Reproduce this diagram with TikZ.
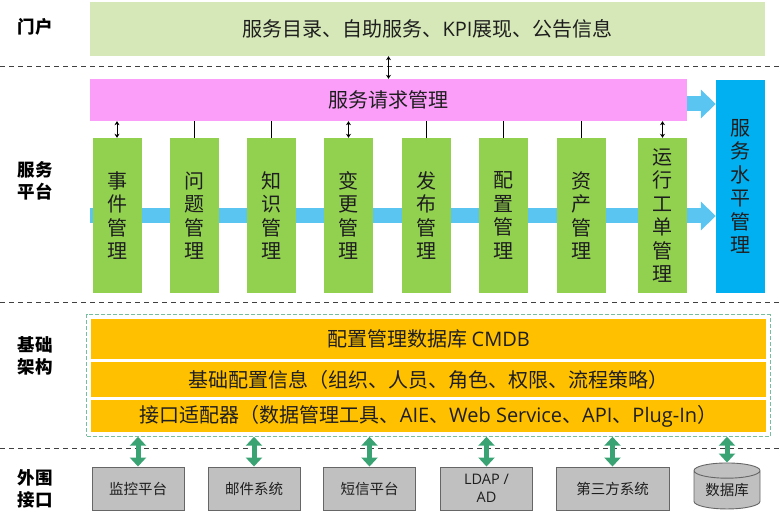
\documentclass[tikz,border=0pt]{standalone}
\usepackage{fontspec}
\setmainfont{Noto Sans CJK SC}
\newfontfamily\lat{Open Sans}
\usepackage{xcolor}
\usepackage{tikz}
\usetikzlibrary{shapes,arrows,positioning,calc,fit,shapes.geometric,arrows.meta}

\definecolor{portalgreen}{HTML}{D6E8B8}
\definecolor{reqpink}{HTML}{FA9EFA}
\definecolor{modgreen}{HTML}{92D050}
\definecolor{slablue}{HTML}{00B0F0}
\definecolor{flowblue}{HTML}{5BC5F2}
\definecolor{baseorange}{HTML}{FFC000}
\definecolor{linkgreen}{HTML}{3AA374}
\definecolor{extgray}{HTML}{C0C0C0}
\definecolor{txtdark}{HTML}{1E1E1E}

\begin{document}
\begin{tikzpicture}[x=1pt,y=-1pt,
    layer/.style={font=\fontsize{17.5}{22}\selectfont\bfseries, align=center, text=black},
    module/.style={fill=modgreen, minimum width=49pt, minimum height=155pt, align=center,
        inner sep=0pt, text=txtdark, font=\fontsize{20}{23.5}\selectfont},
    baserow/.style={fill=baseorange, draw=white, line width=1.5pt, minimum width=677pt,
        inner sep=0pt, text=txtdark, font=\fontsize{20}{22}\selectfont},
    extbox/.style={fill=extgray, draw=black!60, line width=0.9pt, minimum width=92pt,
        minimum height=43pt, align=center, inner sep=0pt, text=txtdark,
        font=\fontsize{14.5}{18}\selectfont},
    sepline/.style={dash pattern=on 5pt off 4pt, line width=1pt, black!75},
    linkarr/.style={{Stealth[length=4pt,width=5pt]}-{Stealth[length=4pt,width=5pt]}, line width=1pt},
    plainlink/.style={line width=1pt},
    flow/.style={flowblue, line width=15pt, -{Triangle[length=15pt,width=28pt]}},
    dblink/.style={linkgreen, line width=5pt,
        {Triangle[length=9pt,width=16pt]}-{Triangle[length=9pt,width=16pt]}}]
    \useasboundingbox (0,0) rectangle (780,521);

    % Layer separators
    \draw[sepline] (0,67) -- (780,67);
    \draw[sepline] (0,303) -- (780,303);
    \draw[sepline] (0,449) -- (780,449);

    % Layer labels
    \node[layer] (lblportal) at (35,27) {门户};
    \node[layer] (lblservice) at (35,181) {服务\\平台};
    \node[layer] (lblbase) at (35,356) {基础\\架构};
    \node[layer] (lblext) at (35,489) {外围\\接口};

    % Portal
    \node[fill=portalgreen, minimum width=675pt, minimum height=54pt, text=txtdark,
        font=\fontsize{20}{22}\selectfont] (portal) at (427.5,29) {服务目录、自助服务、{\lat KPI}展现、公告信息};

    % Service request and SLA
    \node[fill=reqpink, minimum width=597pt, minimum height=42pt, text=txtdark,
        font=\fontsize{20}{22}\selectfont] (req) at (388.5,100) {服务请求管理};
    \node[fill=slablue, minimum width=49pt, minimum height=213pt, align=center, inner sep=0pt,
        text=txtdark, font=\fontsize{20}{23.5}\selectfont] (sla) at (740.5,186.5) {服\\务\\水\\平\\管\\理};

    % Process flow (behind the modules)
    \coordinate (flowstart) at (90,216);
    \coordinate (reqout) at ($(req.east)+(0,4)$);
    \draw[flow] (flowstart) -- (sla.west |- flowstart);
    \draw[flow] (reqout) -- (sla.west |- reqout);

    % Process modules
    \node[module] (m1) at (117,215.5) {事\\件\\管\\理};
    \node[module] (m2) at (194.5,215.5) {问\\题\\管\\理};
    \node[module] (m3) at (271.5,215.5) {知\\识\\管\\理};
    \node[module] (m4) at (348.5,215.5) {变\\更\\管\\理};
    \node[module] (m5) at (426.5,215.5) {发\\布\\管\\理};
    \node[module] (m6) at (503.5,215.5) {配\\置\\管\\理};
    \node[module] (m7) at (581.5,215.5) {资\\产\\管\\理};
    \node[module] (m8) at (662.5,215.5) {运\\行\\工\\单\\管\\理};

    % Links to service request
    \draw[linkarr] (req.north |- portal.south) -- (req.north);
    \foreach \m in {m1,m4,m8}
        \draw[linkarr] (\m.north |- req.south) -- (\m.north);
    \foreach \m in {m2,m3,m5,m6,m7}
        \draw[plainlink] (\m.north |- req.south) -- (\m.north);

    % Infrastructure
    \node[baserow, minimum height=42pt] (cmdb) at (428.5,339) {配置管理数据库 {\lat CMDB}};
    \node[baserow, minimum height=36pt, below=0pt of cmdb] (baseinfo) {基础配置信息（组织、人员、角色、权限、流程策略）};
    \node[baserow, minimum height=34pt, below=0pt of baseinfo] (adapter) {接口适配器（数据管理工具、{\lat AIE}、{\lat Web Service}、{\lat API}、{\lat Plug-In}）};
    \node[fit=(cmdb)(adapter), inner sep=2.5pt, draw=linkgreen!70, line width=1pt,
        dash pattern=on 4pt off 2pt] (basebox) {};

    % External interfaces
    \node[extbox] (e1) at (138,488.5) {监控平台};
    \node[extbox] (e2) at (254,488.5) {邮件系统};
    \node[extbox] (e3) at (369.5,488.5) {短信平台};
    \node[extbox] (e4) at (486.5,488.5) {{\lat LDAP /}\\{\lat AD}};
    \node[extbox, minimum width=113pt] (e5) at (612.5,488.5) {第三方系统};
    \node[extbox, cylinder, shape border rotate=90, aspect=0.35, minimum width=66pt,
        minimum height=46pt] (e6) at (727,490) {数据库};

    \foreach \e in {e1,e2,e3,e4,e5,e6}
        \draw[dblink] (\e.north |- basebox.south) -- (\e.north);
\end{tikzpicture}
\end{document}
